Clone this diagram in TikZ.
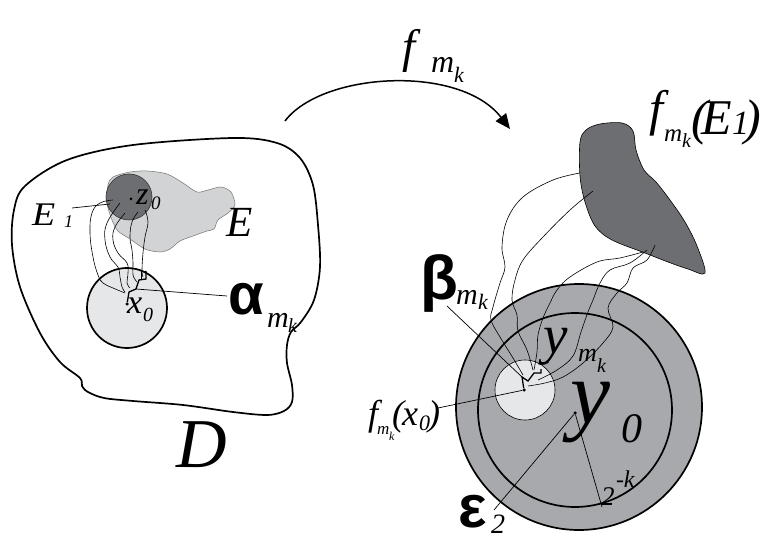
\documentclass[tikz,border=0pt]{standalone}
\usepackage{fontspec}
\setmainfont{Liberation Serif}
\newfontfamily\grk{Liberation Sans}
\usetikzlibrary{arrows.meta}
\newcommand{\fsz}[1]{\fontsize{#1}{#1}\selectfont}
\definecolor{lightfill}{HTML}{E6E7E8}
\definecolor{efill}{HTML}{D1D3D4}
\definecolor{darkfill}{HTML}{6D6E71}
\definecolor{ringfill}{HTML}{A7A9AC}
\begin{document}
\begin{tikzpicture}[x=1pt,y=-1pt,
  lbl/.style={inner sep=0pt, outer sep=0pt, anchor=base west},
  it/.style={lbl, font=\itshape\fsz{#1}},
  gk/.style={lbl, font=\grk\bfseries\fsz{#1}},
  outline/.style={line width=1.7pt},
  wig/.style={line width=0.6pt},
  thinline/.style={line width=0.7pt},
  dot/.style={circle, fill=black, inner sep=0pt, minimum size=3.5pt},
  zig/.style={line width=1.3pt, line join=miter}]
\useasboundingbox (0,0) rectangle (761,540);

% ---------- domain D ----------
\draw[outline] plot[smooth cycle, tension=0.55] coordinates {
 (25,186) (67,160) (133,145) (233,138) (277,143) (300,158) (313,185)
 (318,225) (320,267) (314,300) (301,322) (291,332) (287,345) (287,363)
 (292,385) (292,402) (284,411) (267,415) (233,412) (183,405) (133,401)
 (104,398) (88,392) (82,386) (80,378) (60,362) (40,333) (20,287) (12,245) (14,210)};

% E region
\draw[fill=efill, draw=black!55, line width=0.5pt] plot[smooth cycle, tension=0.5] coordinates {
 (108,185) (113,177) (130,172) (147,171) (167,174) (183,183) (197,192)
 (208,190) (221,187) (231,192) (235,205) (228,213) (218,220) (214,229)
 (207,231) (193,236) (180,241) (170,249) (160,252) (145,249) (130,239)
 (118,231) (112,220) (107,203)};
% E1
\node[circle, draw=black!80, fill=darkfill, line width=0.6pt, minimum size=46pt, inner sep=0pt] (E1c) at (129,197) {};
% small disc around x0
\node[circle, draw=black, fill=lightfill, line width=1.7pt, minimum size=80pt, inner sep=0pt] (Bx) at (127,308) {};

% wiggly curves left
\draw[wig] plot[smooth, tension=0.7] coordinates {(113,200) (100,203) (92,213) (90,233) (93,257) (98,275) (103,283) (113,288) (125,293)};
\draw[wig] plot[smooth, tension=0.7] coordinates {(120,203) (107,223) (105,240) (110,257) (118,267) (120,277) (122,287) (125,292)};
\draw[wig] plot[smooth, tension=0.7] coordinates {(125,213) (115,227) (113,240) (118,253) (127,263) (128,273) (127,283) (130,288)};
\draw[wig] plot[smooth, tension=0.7] coordinates {(138,212) (132,222) (130,237) (132,250) (133,263) (133,275) (137,282)};
\draw[wig] plot[smooth, tension=0.7] coordinates {(145,210) (148,222) (145,237) (143,253) (142,270) (143,277)};

% zigzag alpha path
\node[dot] (x0) at (127,304) {};
\coordinate (za) at (136,289);
\draw[zig] (x0) -- (129,292) -- (za) -- (139,280) -- (146,279) -- (146,271);
\draw[line width=0.5pt] (141,279) -- (141,271) -- (146,271);
\node[dot, minimum size=3pt] (z0) at (131,199) {};

% labels left
\node[it=34] (lx) at (127,313) {x};
\node[it=20] (lx0) at (143,322) {0};
\node[it=32] (lz) at (136,205) {z};
\node[it=19] (lz0) at (151,210) {0};
\node[it=33] (lE1) at (32,226) {\scalebox{1.15}[1]{E}};
\node[it=18] (lE1s) at (64,228) {1};
\node[it=43] (lE) at (226,237) {E};
\node[gk=58] (lal) at (228,315) {α};
\node[it=30] (lalm) at (267,327) {m};
\node[it=20] (lalk) at (288,333) {k};
\node[it=70] (lD) at (176,467) {D};
\coordinate (E1a) at (72,208);
\coordinate (E1b) at (110,204);
\draw[thinline] (E1a) -- (E1b);
\coordinate (ala) at (227,296);
\draw[thinline] (za) -- (ala);

% ---------- arrow f_mk ----------
\coordinate (ar1) at (285,121);
\coordinate (ar2) at (510,129);
\draw[line width=1.5pt, -{Triangle[length=15pt,width=13pt]}] (ar1) .. controls (322,72) and (460,64) .. (ar2);
\node[it=47] (tf) at (402,63) {f};
\node[it=32] (tfm) at (431,73) {m};
\node[it=22] (tfk) at (454,83) {k};

% ---------- right side ----------
\node[circle, draw=black, fill=ringfill, line width=1.7pt, minimum size=246pt, inner sep=0pt] (Out) at (579,407) {};
\draw[outline] (575,410) circle[radius=97];
\node[circle, draw=black, fill=lightfill, line width=0.6pt, minimum size=60pt, inner sep=0pt] (Bf) at (525,390) {};

% f(E1) blob
\draw[fill=darkfill, draw=black, line width=0.6pt] plot[smooth cycle, tension=0.55] coordinates {
 (580,142) (586,130) (600,124) (622,123) (633,131) (636,150) (644,170)
 (656,182) (670,200) (685,222) (697,246) (705,273) (688,269) (668,262)
 (645,253) (612,240) (595,226) (585,202) (580,176)};

% wiggly curves right
\draw[wig] plot[smooth, tension=0.6] coordinates {(580,173) (553,180) (523,197) (507,220) (502,247) (505,267) (500,283) (493,307) (491,320) (500,337) (513,358) (523,375)};
\draw[wig] plot[smooth, tension=0.6] coordinates {(593,191) (570,210) (543,237) (523,260) (515,280) (512,300) (517,315) (518,331) (527,350) (533,370)};
\draw[wig] plot[smooth, tension=0.6] coordinates {(643,252) (620,258) (597,262) (570,277) (557,290) (550,303) (543,318) (538,335) (537,352) (534,370)};
\draw[wig] plot[smooth, tension=0.6] coordinates {(647,250) (630,263) (610,270) (600,283) (593,300) (588,312) (581,332) (573,356) (557,370) (538,380)};
\draw[wig] plot[smooth, tension=0.6] coordinates {(655,245) (647,260) (633,268) (627,283) (617,293) (608,308) (613,327) (603,343) (583,363) (563,377) (545,383) (528,386)};

% zigzag beta path
\node[dot] (fx0) at (524,390) {};
\coordinate (zb) at (522,377);
\draw[zig] (fx0) -- (zb) -- (528,381) -- (534,373) -- (541,373) -- (541,369);
\node[dot] (ymk) at (547,362) {};
\node[dot] (y0) at (575,413) {};
\coordinate (eps) at (494,510);
\coordinate (rad) at (602,507);
\draw[thinline] (y0) -- (eps);
\draw[thinline] (y0) -- (rad);
\coordinate (bta) at (447,306);
\draw[thinline] (bta) -- (zb);
\coordinate (fxa) at (438,408);
\draw[thinline] (fxa) -- (fx0);

% labels right
\node[it=50] (rf) at (649,126) {f};
\node[it=25] (rfm) at (664,142) {m};
\node[it=20] (rfk) at (682,148) {k};
\node[it=50] (rlp) at (691,135) {(};
\node[it=50] (rE) at (701,135) {E};
\node[it=34] (rE1) at (732,135) {1};
\node[it=50] (rrp) at (744,135) {)};

\node[gk=62] (lb) at (420,300) {β};
\node[it=30] (lbm) at (456,305) {m};
\node[it=22] (lbk) at (478,310) {k};

\node[it=36] (ff) at (368,425) {f};
\node[it=17] (ffm) at (377,434) {m};
\node[it=12] (ffk) at (389,440) {k};
\node[it=36] (flp) at (392,425) {(};
\node[it=36] (fx) at (402,425) {x};
\node[it=22] (fx0l) at (419,430) {0};
\node[it=36] (frp) at (428,425) {)};

\node[it=55] (ly) at (543,353) {y};
\node[it=26] (lym) at (578,362) {m};
\node[it=20] (lyk) at (597,372) {k};
\node[it=90] (ly0) at (570,423) {y};
\node[it=42] (ly00) at (621,442) {0};
\node[it=27] (l2) at (601,505) {2};
\node[it=24] (l2k) at (616,487) {-k};
\node[gk=60] (le) at (458,527) {ε};
\node[it=28] (le2) at (491,533) {2};
\end{tikzpicture}
\end{document}
